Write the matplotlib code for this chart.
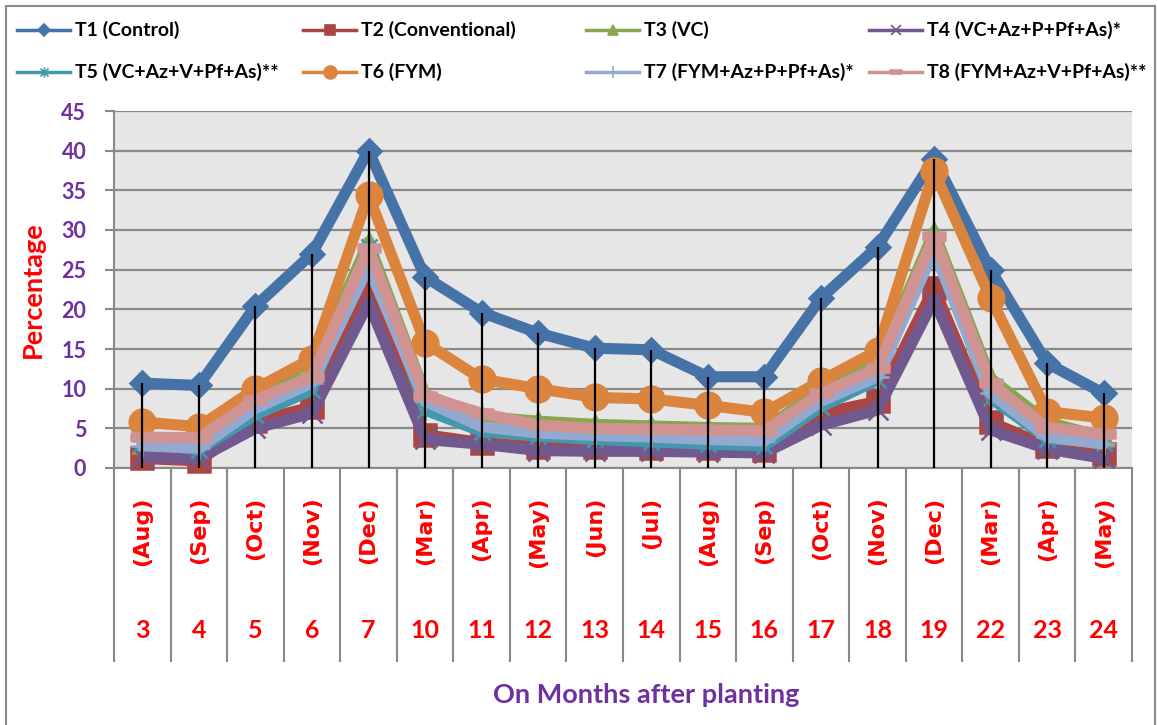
import numpy as np
import matplotlib.pyplot as plt
from matplotlib.lines import Line2D
from matplotlib.patches import Rectangle
from matplotlib.path import Path
from matplotlib.transforms import blended_transform_factory

months = ['(Aug)', '(Sep)', '(Oct)', '(Nov)', '(Dec)', '(Mar)', '(Apr)', '(May)', '(Jun)',
          '(Jul)', '(Aug)', '(Sep)', '(Oct)', '(Nov)', '(Dec)', '(Mar)', '(Apr)', '(May)']
map_months = ['3', '4', '5', '6', '7', '10', '11', '12', '13', '14', '15', '16', '17', '18',
              '19', '22', '23', '24']

names = ['T1 (Control)', 'T2 (Conventional)', 'T3 (VC)', 'T4 (VC+Az+P+Pf+As)*',
         'T5 (VC+Az+V+Pf+As)**', 'T6 (FYM)', 'T7 (FYM+Az+P+Pf+As)*', 'T8 (FYM+Az+V+Pf+As)**']

t1 = [10.7, 10.4, 20.4, 27.0, 40.0, 24.1, 19.6, 17.0, 15.1, 14.9, 11.5, 11.5, 21.4, 27.9, 39.0, 25.0, 13.2, 9.4]
t2 = [1.2, 0.9, 5.9, 7.7, 22.4, 4.2, 3.2, 2.7, 2.6, 2.5, 2.5, 2.3, 6.9, 8.4, 22.7, 5.8, 2.8, 1.8]
t3 = [3.0, 2.9, 9.2, 12.3, 28.5, 9.3, 6.5, 5.9, 5.5, 5.3, 5.1, 5.0, 9.8, 13.2, 29.8, 11.3, 5.8, 3.9]
t4 = [1.4, 1.2, 5.0, 6.9, 20.8, 3.6, 3.0, 2.2, 2.1, 2.1, 2.0, 1.9, 5.4, 7.3, 21.2, 4.8, 2.4, 1.2]
t5 = [3.1, 2.3, 6.7, 9.8, 27.9, 7.3, 4.6, 4.0, 3.6, 3.3, 3.0, 2.8, 7.7, 11.1, 28.5, 8.8, 3.7, 3.2]
t6 = [5.8, 5.2, 10.0, 13.8, 34.4, 15.8, 11.2, 10.0, 8.9, 8.7, 7.9, 7.0, 11.0, 14.8, 37.4, 21.4, 7.1, 6.3]
t7 = [2.8, 2.5, 7.5, 10.7, 25.4, 8.4, 5.2, 4.4, 4.1, 3.9, 3.6, 3.4, 8.4, 11.5, 27.4, 9.4, 3.9, 3.0]
t8 = [3.9, 3.8, 8.6, 11.5, 27.7, 9.1, 6.9, 5.4, 5.0, 4.9, 4.8, 4.7, 9.4, 12.6, 29.2, 10.7, 5.1, 4.3]
series = [t1, t2, t3, t4, t5, t6, t7, t8]

colors = ['#4572A7', '#AA4643', '#89A54E', '#71588F', '#4198AF', '#DB843D', '#93A9CF', '#D19392']

# excel style markers
star = Path([(-1, -1), (1, 1), (-1, 1), (1, -1), (0, -1.3), (0, 1.3)],
            [Path.MOVETO, Path.LINETO, Path.MOVETO, Path.LINETO, Path.MOVETO, Path.LINETO])
dash = [(-1, -0.35), (1, -0.35), (1, 0.35), (-1, 0.35), (-1, -0.35)]
markers = ['D', 's', '^', 'x', star, 'o', '+', dash]
msizes = [12.5, 15.5, 13.5, 15, 15, 18.5, 16, 16]

purple = '#7030A0'
red = '#FF0000'
grey = '#898989'

W, H = 1158, 725
def fx(px):
    return px / W
def fy(py):
    return 1 - py / H

fig = plt.figure(figsize=(W / 100, H / 100), dpi=100)
ax = fig.add_axes([fx(114), fy(468), fx(1132) - fx(114), fy(111) - fy(468)])
ax.set_facecolor('#E6E6E6')

x = np.arange(len(months))
for i, vals in enumerate(series):
    ax.plot(x, vals, color=colors[i], lw=8, marker=markers[i], ms=msizes[i],
            mfc=colors[i], mec=colors[i], mew=1.8, zorder=3 + i, clip_on=False,
            solid_joinstyle='round', solid_capstyle='round')

# drop lines
top = np.max(np.array(series), axis=0)
ax.vlines(x, 0, top, colors='black', lw=1.6, zorder=20)

ax.set_xlim(-0.5, len(months) - 0.5)
ax.set_ylim(0, 45)
ax.set_yticks(range(0, 50, 5))
ax.set_xticks([])
ax.yaxis.grid(True, color=grey, lw=1.6)
ax.set_axisbelow(True)
for s in ['top', 'right']:
    ax.spines[s].set_visible(False)
for s in ['left', 'bottom']:
    ax.spines[s].set_color(grey)
    ax.spines[s].set_linewidth(1.5)
ax.tick_params(axis='y', length=6.5, width=1.5, color=grey, pad=13.5,
               labelsize=15.5, labelcolor=purple)
for lab in ax.get_yticklabels():
    lab.set_fontfamily('Lato')
    lab.set_fontweight('bold')

# category table below the axis
trans = blended_transform_factory(ax.transData, ax.transAxes)
ax.vlines(np.arange(len(months) + 1) - 0.5, -0.5434, 0, transform=trans,
          colors=grey, lw=1.5, clip_on=False)
for i in range(len(months)):
    ax.text(i, -0.080, months[i], transform=trans, rotation=90, ha='center', va='top',
            color=red, fontsize=16, fontweight='bold', family='DejaVu Sans')
    ax.text(i, -0.454, map_months[i], transform=trans, ha='center', va='center',
            color=red, fontsize=18, fontweight='bold', family='Lato')

fig.text(fx(33), fy(290), 'Percentage', rotation=90, ha='center', va='center',
         color=red, fontsize=19.5, fontweight='bold', family='Lato')
fig.text(fx(646), fy(695), 'On Months after planting', ha='center', va='center',
         color=purple, fontsize=19.5, fontweight='bold', family='Lato')

# legend, excel like grid of entries
col_x = [17, 303, 586, 869]
row_y = [30, 72]
for i, name in enumerate(names):
    cx = col_x[i % 4]
    cy = fy(row_y[i // 4])
    fig.add_artist(Line2D([fx(cx), fx(cx + 53)], [cy, cy], color=colors[i], lw=2.5))
    fig.add_artist(Line2D([fx(cx + 26.5)], [cy], color=colors[i], marker=markers[i],
                          ms=msizes[i] * 0.5, mfc=colors[i], mec=colors[i], mew=1.2))
    fig.text(fx(cx + 58), cy, name, ha='left', va='center', fontsize=14,
             fontweight='bold', family='Lato', color='black')

fig.add_artist(Rectangle((fx(6), -0.01), fx(1155) - fx(6), fy(6) + 0.01, fill=False,
                         edgecolor=grey, lw=1.5, transform=fig.transFigure))

fig.savefig('out.png', dpi=100)
